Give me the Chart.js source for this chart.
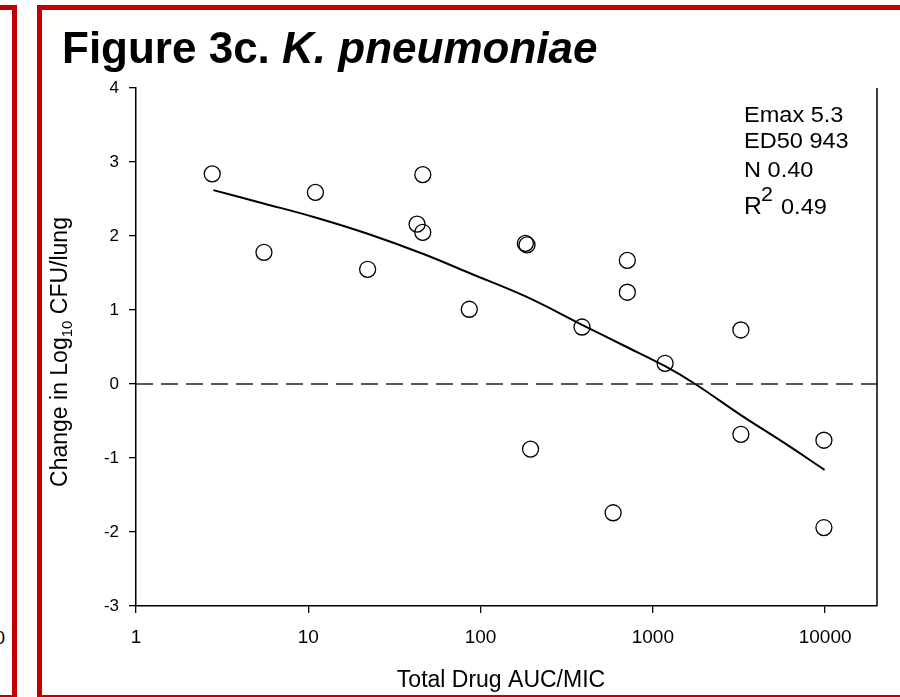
<!DOCTYPE html>
<html>
<head>
<meta charset="utf-8">
<script src="https://cdn.jsdelivr.net/npm/chart.js@4"></script>
<style>
  html, body { margin: 0; padding: 0; background: #fff; overflow: hidden; }
  #wrap { position: relative; width: 900px; height: 697px; overflow: hidden; }
  canvas { position: absolute; left: 0; top: 0; }
  .frame { position: absolute; border: 5px solid #c00000; box-sizing: border-box; }
  #stub { position: absolute; left: -61px; width: 66px; top: 627px; line-height: 19px; text-align: right;
          font: 19px 'Liberation Sans', Arial, sans-serif; color: #000; }
</style>
</head>
<body>
<div id="wrap">
  <div class="frame" style="left:-100px; top:5px; width:117px; height:695px;"></div>
  <div class="frame" style="left:37px; top:5px; width:920px; height:695px;"></div>
  <div id="stub">10000</div>
  <canvas id="chart" width="900" height="697"></canvas>
</div>
<script>
// axis ticks
const X_TICKS = [1, 10, 100, 1000, 10000];
const Y_TICKS = [-3, -2, -1, 0, 1, 2, 3, 4];

// observed points (total drug AUC/MIC vs change in log10 CFU/lung)
const aucMic = [2.77, 5.53, 11.0, 22.1, 42.8, 46.2, 46.2, 86, 182, 186, 195, 388, 588, 711, 711, 1178, 3243, 3243, 9840, 9840];
const cfuChange = [2.84, 1.78, 2.59, 1.55, 2.16, 2.05, 2.83, 1.01, 1.90, 1.88, -0.88, 0.77, -1.74, 1.67, 1.24, 0.28, 0.73, -0.68, -0.76, -1.94];

// fitted curve
const fitAuc = [2.81, 5.5, 11.0, 22.1, 46.2, 86, 184, 388, 677, 1178, 1760, 3243, 5730, 9920];
const fitChange = [2.62, 2.44, 2.25, 2.03, 1.76, 1.50, 1.18, 0.80, 0.52, 0.24, 0.00, -0.42, -0.79, -1.16];

// dashed zero line
const zeroAuc = [1, 20000];
const zeroChange = [0, 0];

const statLines = ['Emax 5.3', 'ED50 943', 'N 0.40'];

const FONT = "'Liberation Sans', Arial, sans-serif";

function pairs(xs, ys) {
    return xs.map(function(x, i) { return { x: x, y: ys[i] }; });
}

// text drawn a little wider, like the original
function wideText(ctx, text, x, y, sx) {
    ctx.save();
    ctx.translate(x, y);
    ctx.scale(sx, 1);
    ctx.fillText(text, 0, 0);
    ctx.restore();
}

// titles, stat text and the right axis line
const decorations = {
    id: 'decorations',
    afterDraw: function(chart) {
        var ctx = chart.ctx;
        var area = chart.chartArea;
        ctx.save();
        ctx.strokeStyle = '#000';
        ctx.lineWidth = 1.5;
        ctx.beginPath();
        ctx.moveTo(area.right, area.top);
        ctx.lineTo(area.right, area.bottom);
        ctx.stroke();

        ctx.fillStyle = '#000';
        ctx.textBaseline = 'alphabetic';
        ctx.textAlign = 'left';

        // figure title
        ctx.font = 'bold 44px ' + FONT;
        ctx.fillText('Figure 3c. ', 62, 63);
        var w = ctx.measureText('Figure 3c. ').width;
        ctx.font = 'italic bold 44px ' + FONT;
        ctx.fillText('K. pneumoniae', 62 + w, 63);

        // stats box
        ctx.font = '22px ' + FONT;
        var base = [122, 148, 177];
        statLines.forEach(function(t, i) { wideText(ctx, t, 744, base[i], 1.07); });
        ctx.font = '23px ' + FONT;
        wideText(ctx, 'R', 744, 214, 1.07);
        ctx.font = '20px ' + FONT;
        wideText(ctx, '2', 761, 201, 1.07);
        ctx.font = '22px ' + FONT;
        wideText(ctx, '0.49', 781, 214, 1.07);

        // x axis title
        ctx.font = '23px ' + FONT;
        ctx.textAlign = 'center';
        ctx.fillText('Total Drug AUC/MIC', 501, 687);

        // y axis title with subscript
        ctx.translate(67, 352);
        ctx.rotate(-Math.PI / 2);
        ctx.textAlign = 'left';
        var p1 = 'Change in Log', sub = '10', p2 = ' CFU/lung';
        ctx.font = '23px ' + FONT;
        var w1 = ctx.measureText(p1).width, w3 = ctx.measureText(p2).width;
        ctx.font = '15px ' + FONT;
        var w2 = ctx.measureText(sub).width;
        var x0 = -(w1 + w2 + w3) / 2;
        ctx.font = '23px ' + FONT;
        ctx.fillText(p1, x0, 0);
        ctx.font = '15px ' + FONT;
        ctx.fillText(sub, x0 + w1, 5);
        ctx.font = '23px ' + FONT;
        ctx.fillText(p2, x0 + w1 + w2, 0);
        ctx.restore();
    }
};

var chart = new Chart(document.getElementById('chart'), {
    type: 'scatter',
    data: {
        datasets: [{
            label: 'zero',
            data: pairs(zeroAuc, zeroChange),
            showLine: true,
            borderColor: '#222',
            borderWidth: 1.5,
            borderDash: [17, 8],
            pointRadius: 0
        }, {
            label: 'fit',
            data: pairs(fitAuc, fitChange),
            showLine: true,
            borderColor: '#000',
            borderWidth: 2,
            pointRadius: 0,
            tension: 0.4
        }, {
            label: 'observed',
            data: pairs(aucMic, cfuChange),
            showLine: false,
            pointRadius: 8,
            pointBorderWidth: 1.3,
            pointBorderColor: '#000',
            pointBackgroundColor: 'rgba(0,0,0,0)'
        }]
    },
    options: {
        responsive: false,
        animation: false,
        devicePixelRatio: 1,
        layout: { padding: { left: 76, right: 23, top: 88, bottom: 11 } },
        plugins: { legend: { display: false }, tooltip: { enabled: false }, title: { display: false } },
        scales: {
            x: {
                type: 'logarithmic',
                min: 1,
                max: 20000,
                afterBuildTicks: function(s) { s.ticks = X_TICKS.map(function(v) { return { value: v }; }); },
                afterFit: function(s) { s.height = 80; },
                ticks: {
                    callback: function(v) { return String(v); },
                    color: '#000',
                    font: { family: FONT, size: 19 },
                    padding: 13,
                    maxRotation: 0,
                    autoSkip: false
                },
                grid: { drawOnChartArea: false, drawTicks: true, tickLength: 7, color: '#000', lineWidth: 1.3 },
                border: { display: true, color: '#000', width: 1.5 }
            },
            y: {
                min: -3,
                max: 4,
                afterBuildTicks: function(s) { s.ticks = Y_TICKS.map(function(v) { return { value: v }; }); },
                afterFit: function(s) { s.width = 60; },
                ticks: {
                    color: '#000',
                    font: { family: FONT, size: 17 },
                    padding: 10
                },
                grid: { drawOnChartArea: false, drawTicks: true, tickLength: 7, color: '#000', lineWidth: 1.3 },
                border: { display: true, color: '#000', width: 1.5 }
            }
        }
    },
    plugins: [decorations]
});
</script>
</body>
</html>
